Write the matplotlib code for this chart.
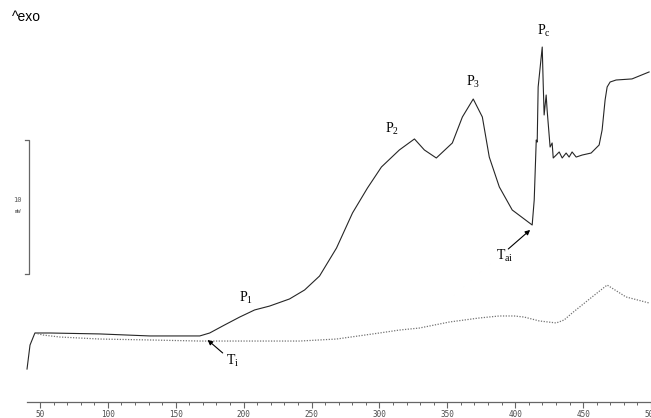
#!/usr/bin/env python3
"""DSC trace with exotherm peaks P1..Pc and a dotted reference run."""

import matplotlib
matplotlib.use("Agg")
import matplotlib.pyplot as plt
from matplotlib.ticker import MultipleLocator

# temperature (C) and heat flow (mW, arbitrary offset)
temp_main = [40.5, 42.7, 46.3, 57.4, 94.1, 130.9, 167.7, 175.0, 186.0, 197.1,
             208.1, 219.1, 233.8, 244.9, 255.9, 268.4, 280.2, 291.2, 301.5,
             314.7, 325.8, 333.1, 341.9, 353.7, 361.1, 369.1, 375.8, 380.9,
             388.3, 397.8, 412.5, 414.0, 415.5, 416.2, 416.9, 418.4, 419.9,
             420.6, 421.3, 422.8, 423.5, 425.7, 427.2, 428.0, 430.2, 432.4,
             434.6, 437.5, 439.7, 441.9, 444.9, 449.3, 455.9, 461.8, 464.0,
             466.2, 467.7, 469.9, 474.3, 486.0, 498.6]
flow_main = [2.31, 4.10, 5.00, 5.00, 4.93, 4.78, 4.78, 5.00, 5.60, 6.19,
             6.72, 7.01, 7.54, 8.21, 9.25, 11.34, 13.96, 15.82, 17.39,
             18.66, 19.48, 18.66, 18.06, 19.18, 21.12, 22.46, 21.12, 18.13,
             15.90, 14.18, 13.06, 14.93, 19.40, 19.25, 23.36, 24.85, 26.34,
             23.66, 21.27, 22.76, 21.64, 18.88, 19.18, 18.06, 18.28, 18.51,
             18.06, 18.43, 18.13, 18.51, 18.13, 18.28, 18.43, 19.03, 20.15,
             22.39, 23.36, 23.73, 23.88, 23.96, 24.48]

temp_ref = [46.3, 52.2, 64.7, 94.1, 130.9, 167.7, 204.4, 241.2, 268.4, 300.0,
            314.7, 329.4, 351.5, 373.5, 388.3, 399.3, 406.6, 417.7, 430.2,
            436.0, 441.9, 456.6, 467.7, 481.6, 498.6]
flow_ref = [5.00, 4.85, 4.70, 4.55, 4.48, 4.40, 4.40, 4.40, 4.55, 5.00,
            5.22, 5.37, 5.82, 6.12, 6.27, 6.27, 6.19, 5.90, 5.75,
            5.97, 6.49, 7.69, 8.58, 7.69, 7.24]

x_ticks = [50, 100, 150, 200, 250, 300, 350, 400, 450, 500]

peak_labels = [r"$\mathregular{P_1}$", r"$\mathregular{P_2}$",
               r"$\mathregular{P_3}$", r"$\mathregular{P_c}$"]
peak_pos = [(196.3, 7.31), (304.4, 19.93), (364.0, 23.43), (416.2, 27.24)]

serif = ["Liberation Serif", "DejaVu Serif"]

fig = plt.figure(figsize=(6.51, 4.18), dpi=100)
ax = fig.add_axes([0, 0, 1, 1])
ax.set_xlim(20.6, 499.3)
ax.set_ylim(-1.343, 29.85)

ax.plot(temp_main, flow_main, color="0.15", linewidth=0.8)
ax.plot(temp_ref, flow_ref, color="0.45", linewidth=0.9, linestyle=(0, (1, 1.2)))

for label, (tx, ty) in zip(peak_labels, peak_pos):
    ax.text(tx, ty, label, family=serif, fontsize=10, ha="left", va="baseline")

ax.text(186.8, 2.61, r"$\mathregular{T_i}$", family=serif, fontsize=10,
        ha="left", va="baseline")
ax.annotate("", xy=(173.5, 4.48), xytext=(184.6, 3.51),
            arrowprops=dict(arrowstyle="-|>", color="black", lw=0.8,
                            mutation_scale=7, shrinkA=0, shrinkB=0))
ax.text(386.0, 10.45, r"$\mathregular{T_{ai}}$", family=serif, fontsize=10,
        ha="left", va="baseline")
ax.annotate("", xy=(411.0, 12.69), xytext=(394.9, 11.27),
            arrowprops=dict(arrowstyle="-|>", color="black", lw=0.8,
                            mutation_scale=7, shrinkA=0, shrinkB=0))

# 10 mW scale bar
ax.plot([39.0, 41.9, 41.9, 39.0], [19.4, 19.4, 9.4, 9.4], color="0.4", linewidth=0.9)
ax.text(33.5, 14.95, "10", family="DejaVu Sans Mono", fontsize=5,
        color="0.35", ha="center", va="center")
ax.text(33.5, 14.1, "mW", family="DejaVu Sans Mono", fontsize=4,
        color="0.35", ha="center", va="center")

ax.text(12, 401, "^exo", transform=None, fontsize=10,
        family=["Liberation Sans", "DejaVu Sans"], ha="left", va="center")

for side in ["top", "left", "right"]:
    ax.spines[side].set_visible(False)
ax.spines["bottom"].set_position(("data", -0.15))
ax.spines["bottom"].set_bounds(40.5, 499.3)
ax.spines["bottom"].set_color("0.4")
ax.spines["bottom"].set_linewidth(0.9)
ax.set_yticks([])
ax.set_xticks(x_ticks)
ax.set_xticks([t for t in range(60, 500, 10) if t % 50], minor=True)
ax.tick_params(axis="x", which="major", direction="out", length=4, width=0.8,
               color="0.4", pad=2, labelsize=5.5, labelcolor="0.3")
ax.tick_params(axis="x", which="minor", direction="out", length=2.5, width=0.7,
               color="0.4")
for lbl in ax.get_xticklabels():
    lbl.set_family("DejaVu Sans Mono")

fig.savefig("out.png", dpi=100)
